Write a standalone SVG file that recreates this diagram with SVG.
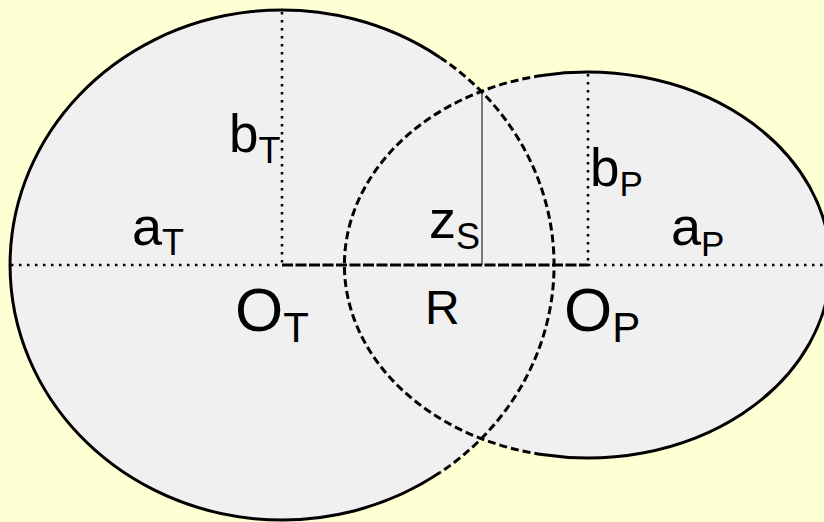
<svg xmlns="http://www.w3.org/2000/svg" width="824" height="522" viewBox="0 0 824 522">
<style>
.fill{fill:#F0F0F0;stroke:none}
.solid{fill:none;stroke:#000;stroke-width:3}
.dash{fill:none;stroke:#000;stroke-width:3;stroke-dasharray:8 4}
.dot{fill:none;stroke:#000;stroke-width:2.5;stroke-dasharray:2.5 5.5}
.thick{fill:none;stroke:#000;stroke-width:3;stroke-dasharray:11 2.5}
.thin{fill:none;stroke:#000;stroke-width:1}
text{font-family:"Liberation Sans",Arial,sans-serif;fill:#000}
</style>
<rect width="824" height="522" fill="#FFFFD4"/>
<g id="ellipseT">
<ellipse class="fill" cx="282" cy="265" rx="272" ry="255"/>
</g>
<g id="ellipseP">
<ellipse class="fill" cx="587.5" cy="265" rx="243" ry="193"/>
</g>
<g id="outlines">
<path class="solid" d="M440,57.4 A272,255 0 1,0 440,472.6"/>
<path class="dash" d="M440,57.4 A272,255 0 0,1 440,472.6"/>
<path class="solid" d="M542,75.4 A243,193 0 1,1 542,454.6"/>
<path class="dash" d="M542,75.4 A243,193 0 0,0 542,454.6"/>
</g>
<g id="connectors">
<line class="dot" x1="11" y1="265" x2="282" y2="265"/>
<line class="dot" x1="588" y1="265" x2="824" y2="265"/>
<line class="dot" x1="282" y1="12" x2="282" y2="265"/>
<line class="dot" x1="588" y1="74" x2="588" y2="265"/>
<line class="thick" x1="282" y1="265" x2="588" y2="265"/>
<line class="thin" x1="482" y1="92" x2="482" y2="265"/>
</g>
<g id="labels">
<text x="229" y="152" font-size="53">b<tspan font-size="36" dy="11">T</tspan></text>
<text x="132" y="244.5" font-size="54">a<tspan font-size="36" dy="10.5">T</tspan></text>
<text x="235" y="330.5" font-size="62">O<tspan font-size="42" dy="11">T</tspan></text>
<text x="425" y="323.5" font-size="48">R</text>
<text x="429" y="238" font-size="54">z<tspan font-size="36" dy="10.5">S</tspan></text>
<text x="590" y="185.5" font-size="53">b<tspan font-size="35" dy="10.5">P</tspan></text>
<text x="671" y="245" font-size="54">a<tspan font-size="35" dy="11">P</tspan></text>
<text x="564" y="331" font-size="62">O<tspan font-size="42" dy="11">P</tspan></text>
</g>
</svg>
